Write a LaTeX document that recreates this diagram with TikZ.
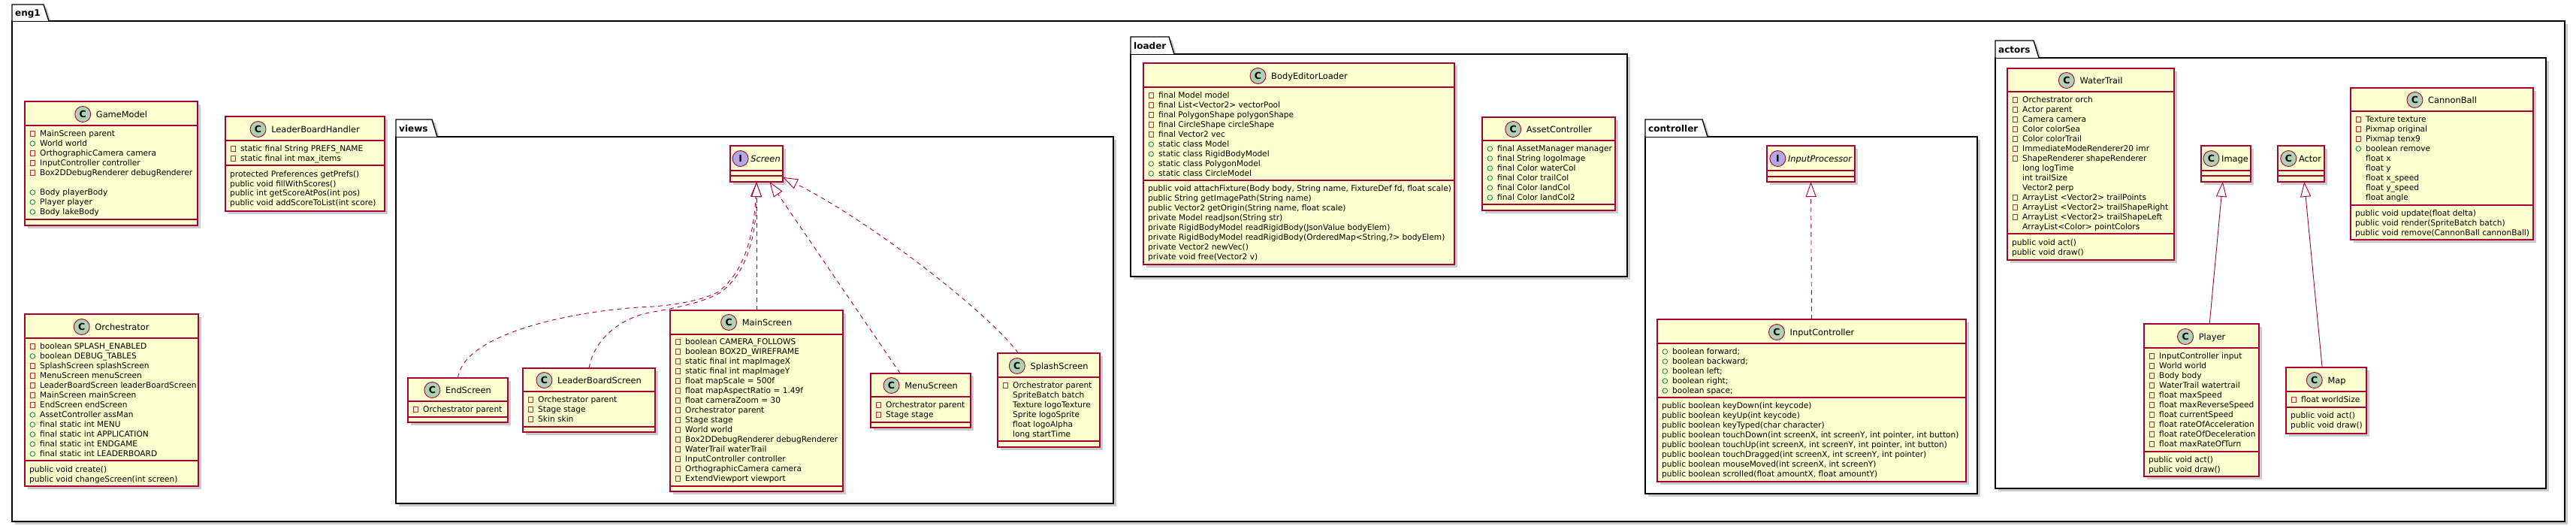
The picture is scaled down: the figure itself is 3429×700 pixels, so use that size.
\documentclass[tikz,border=0pt]{standalone}
\usepackage{fontspec}
\setmainfont{DejaVu Sans}
\usetikzlibrary{arrows.meta,calc}
\definecolor{umlred}{HTML}{A80036}
\definecolor{umlfill}{HTML}{FEFECE}
\definecolor{clsgreen}{HTML}{ADD1B2}
\definecolor{ifcpurple}{HTML}{B4A7E5}
\definecolor{privred}{HTML}{C82930}
\definecolor{pubgreen}{HTML}{038048}
\newcounter{txt}
\tikzset{
  classbox/.style={draw=umlred, fill=umlfill, line width=1.3pt, inner sep=0pt, outer sep=0pt},
  sepline/.style={draw=umlred, line width=1.2pt},
  titletext/.style={font=\fontsize{11.4}{13}\selectfont, inner sep=0pt},
  memtext/.style={font=\fontsize{10.6}{13}\selectfont, inner sep=0pt},
  cicon/.style={circle, draw=umlred, line width=0.9pt, fill=clsgreen, minimum size=21pt, inner sep=0pt, font=\fontsize{12.5}{12}\selectfont\bfseries},
  iicon/.style={cicon, fill=ifcpurple},
  privicon/.style={draw=privred, line width=0.8pt},
  pubicon/.style={draw=pubgreen, line width=0.8pt},
  realize/.style={draw=umlred, line width=0.9pt, dash pattern=on 6pt off 5pt, -{Triangle[length=20pt,width=14pt,fill=white]}},
  inherit/.style={draw=umlred, line width=0.9pt, -{Triangle[length=20pt,width=14pt,fill=white]}},
  pkgbox/.style={draw=black, line width=1.4pt, fill=white, inner sep=0pt, outer sep=0pt},
  shadowfill/.style={fill=black, opacity=0.2},
  pkglabel/.style={font=\fontsize{12}{14}\selectfont\bfseries, inner sep=0pt},
}
% class box: name, L, T, R, B
\newcommand\cls[5]{%
  \def\uN{#1}\def\uL{#2}\def\uR{#4}%
  \fill[shadowfill] ({#2+4},{#3+4}) rectangle ({#4+4},{#5+4});
  \pgfmathsetmacro\clsw{#4-#2}\pgfmathsetmacro\clsh{#5-#3}%
  \node[classbox, minimum width=\clsw pt, minimum height=\clsh pt] (#1) at ({(#2+#4)/2},{(#3+#5)/2}) {};
}
% title: y, icon style, letter, text, gap
\newcommand\ctitle[5]{%
  \pgfmathsetmacro\tcx{(\uL+\uR)/2+(21+#5)/2}%
  \node[titletext, anchor=base] (\uN-t) at (\tcx,{#1+4.1}) {#4};
  \node[#2] (\uN-i) at ($(\uN-t.base west)+({-#5-10.5},-4.1)$) {#3};
}
\newcommand\csep[1]{\draw[sepline] (\uL,#1) -- (\uR,#1);}
\newcommand\mem[2]{\stepcounter{txt}\node[memtext, anchor=base west] (t\arabic{txt}) at ({\uL+20},{#1+3.8}) {#2};}
\newcommand\mpv[2]{\draw[privicon] ({\uL+7},{#1-3.2}) rectangle ({\uL+13.5},{#1+3.2}); \mem{#1}{#2}}
\newcommand\mpb[2]{\draw[pubicon] ({\uL+10.3},#1) circle[radius=3.3pt]; \mem{#1}{#2}}
\newcommand\mpn[2]{\mem{#1}{#2}}
\newcommand\mmt[2]{\stepcounter{txt}\node[memtext, anchor=base west] (t\arabic{txt}) at ({\uL+6},{#1+3.8}) {#2};}
% package: name, L, tabtop, tabright, line, R, B, label
\newcommand\pkg[8]{%
  \fill[shadowfill] ({#2+4},{#5+4}) rectangle ({#6+4},{#7+4});
  \fill[shadowfill] ({#2+4},{#3+4}) -- ({#4-3},{#3+4}) -- ({#4+4},{#5+4}) -- ({#2+4},{#5+4}) -- cycle;
  \pgfmathsetmacro\clsw{#6-#2}\pgfmathsetmacro\clsh{#7-#5}%
  \node[pkgbox, minimum width=\clsw pt, minimum height=\clsh pt] (#1) at ({(#2+#6)/2},{(#5+#7)/2}) {};
  \draw[pkgbox] (#2,#5) -- (#2,#3) -- ({#4-7},#3) -- (#4,#5);
  \node[pkglabel, anchor=base west] (#1-label) at ({#2+4},{#5-6.5}) {#8};
}
\begin{document}
\begin{tikzpicture}[x=1pt,y=-1pt]
\fill[white] (0,0) rectangle (3429,700);
\useasboundingbox (0,0) rectangle (3429,700);
% packages
\pkg{eng1}{16}{6}{65}{28}{3414}{694}{eng1}
\pkg{views}{527}{159}{582}{182}{1482}{670}{views}
\pkg{loader}{1505}{49}{1563}{72}{2166}{368}{loader}
\pkg{controller}{2190}{159}{2273}{182}{2632}{657}{controller}
\pkg{actors}{2656}{54}{2714}{77}{3389}{650}{actors}

% GameModel
\cls{gm}{33}{135}{263}{300}
\ctitle{152}{cicon}{C}{GameModel}{7}
\csep{167}
\mpv{178}{MainScreen parent}
\mpb{191}{World world}
\mpv{204}{OrthographicCamera camera}
\mpv{217}{InputController controller}
\mpv{230}{Box2DDebugRenderer debugRenderer}
\mpb{256}{Body playerBody}
\mpb{269}{Player player}
\mpb{282}{Body lakeBody}
\csep{292}

% LeaderBoardHandler
\cls{lbh}{300}{155}{512}{281}
\ctitle{172}{cicon}{C}{LeaderBoardHandler}{7}
\csep{187}
\mpv{198}{static final String PREFS\_NAME}
\mpv{211}{static final int max\_items}
\csep{220}
\mmt{232}{protected Preferences getPrefs()}
\mmt{245}{public void fillWithScores()}
\mmt{257}{public int getScoreAtPos(int pos)}
\mmt{270}{public void addScoreToList(int score)}

% Orchestrator
\cls{orch}{33}{418}{264}{647}
\ctitle{435}{cicon}{C}{Orchestrator}{7}
\csep{450}
\mpv{461}{boolean SPLASH\_ENABLED}
\mpb{474}{boolean DEBUG\_TABLES}
\mpv{487}{SplashScreen splashScreen}
\mpv{500}{MenuScreen menuScreen}
\mpv{513}{LeaderBoardScreen leaderBoardScreen}
\mpv{526}{MainScreen mainScreen}
\mpv{539}{EndScreen endScreen}
\mpb{552}{AssetController assMan}
\mpb{565}{final static int MENU}
\mpb{578}{final static int APPLICATION}
\mpb{591}{final static int ENDGAME}
\mpb{604}{final static int LEADERBOARD}
\csep{613}
\mmt{625}{public void create()}
\mmt{638}{public void changeScreen(int screen)}

% views
\cls{screen}{972}{194}{1042}{242}
\ctitle{211}{iicon}{I}{\itshape Screen}{3}
\csep{227}
\csep{234}

\cls{end}{543}{503}{676}{562}
\ctitle{519}{cicon}{C}{EndScreen}{7}
\csep{534}
\mpv{545}{Orchestrator parent}
\csep{555}

\cls{lbs}{696}{490}{872}{575}
\ctitle{506}{cicon}{C}{LeaderBoardScreen}{7}
\csep{521}
\mpv{532}{Orchestrator parent}
\mpv{545}{Stage stage}
\mpv{558}{Skin skin}
\csep{568}

\cls{main}{892}{413}{1122}{654}
\ctitle{429}{cicon}{C}{MainScreen}{7}
\csep{445}
\mpv{455}{boolean CAMERA\_FOLLOWS}
\mpv{468}{boolean BOX2D\_WIREFRAME}
\mpv{481}{static final int mapImageX}
\mpv{494}{static final int mapImageY}
\mpv{507}{float mapScale = 500f}
\mpv{520}{float mapAspectRatio = 1.49f}
\mpv{533}{float cameraZoom = 30}
\mpv{546}{Orchestrator parent}
\mpv{559}{Stage stage}
\mpv{572}{World world}
\mpv{585}{Box2DDebugRenderer debugRenderer}
\mpv{598}{WaterTrail waterTrail}
\mpv{611}{InputController controller}
\mpv{624}{OrthographicCamera camera}
\mpv{637}{ExtendViewport viewport}
\csep{647}

\cls{menu}{1159}{497}{1292}{569}
\ctitle{513}{cicon}{C}{MenuScreen}{7}
\csep{528}
\mpv{539}{Orchestrator parent}
\mpv{552}{Stage stage}
\csep{562}

\cls{splash}{1328}{470}{1464}{595}
\ctitle{487}{cicon}{C}{SplashScreen}{7}
\csep{502}
\mpv{513}{Orchestrator parent}
\mpn{526}{SpriteBatch batch}
\mpn{539}{Texture logoTexture}
\mpn{552}{Sprite logoSprite}
\mpn{565}{float logoAlpha}
\mpn{578}{long startTime}
\csep{587}

% loader
\cls{bel}{1522}{84}{1936}{352}
\ctitle{101}{cicon}{C}{BodyEditorLoader}{7}
\csep{116}
\mpv{127}{final Model model}
\mpv{140}{final List<Vector2> vectorPool}
\mpv{153}{final PolygonShape polygonShape}
\mpv{166}{final CircleShape circleShape}
\mpv{179}{final Vector2 vec}
\mpb{192}{static class Model}
\mpb{205}{static class RigidBodyModel}
\mpb{218}{static class PolygonModel}
\mpb{231}{static class CircleModel}
\csep{240}
\mmt{251}{public void attachFixture(Body body, String name, FixtureDef fd, float scale)}
\mmt{264}{public String getImagePath(String name)}
\mmt{277}{public Vector2 getOrigin(String name, float scale)}
\mmt{290}{private Model readJson(String str)}
\mmt{303}{private RigidBodyModel readRigidBody(JsonValue bodyElem)}
\mmt{316}{private RigidBodyModel readRigidBody(OrderedMap<String,?> bodyElem)}
\mmt{329}{private Vector2 newVec()}
\mmt{342}{private void free(Vector2 v)}

\cls{ac}{1973}{156}{2150}{280}
\ctitle{172}{cicon}{C}{AssetController}{7}
\csep{187}
\mpb{198}{final AssetManager manager}
\mpb{211}{final String logoImage}
\mpb{224}{final Color waterCol}
\mpb{237}{final Color trailCol}
\mpb{250}{final Color landCol}
\mpb{263}{final Color landCol2}
\csep{272}

% controller
\cls{ip}{2352}{194}{2469}{242}
\ctitle{211}{iicon}{I}{\itshape InputProcessor}{3}
\csep{227}
\csep{235}

\cls{ic}{2206}{425}{2617}{641}
\ctitle{442}{cicon}{C}{InputController}{7}
\csep{457}
\mpb{468}{boolean forward;}
\mpb{481}{boolean backward;}
\mpb{494}{boolean left;}
\mpb{507}{boolean right;}
\mpb{520}{boolean space;}
\csep{529}
\mmt{540}{public boolean keyDown(int keycode)}
\mmt{553}{public boolean keyUp(int keycode)}
\mmt{566}{public boolean keyTyped(char character)}
\mmt{579}{public boolean touchDown(int screenX, int screenY, int pointer, int button)}
\mmt{592}{public boolean touchUp(int screenX, int screenY, int pointer, int button)}
\mmt{605}{public boolean touchDragged(int screenX, int screenY, int pointer)}
\mmt{618}{public boolean mouseMoved(int screenX, int screenY)}
\mmt{631}{public boolean scrolled(float amountX, float amountY)}

% actors
\cls{wt}{2672}{91}{2894}{346}
\ctitle{107}{cicon}{C}{WaterTrail}{7}
\csep{122}
\mpv{133}{Orchestrator orch}
\mpv{146}{Actor parent}
\mpv{159}{Camera camera}
\mpv{172}{Color colorSea}
\mpv{185}{Color colorTrail}
\mpv{198}{ImmediateModeRenderer20 imr}
\mpv{211}{ShapeRenderer shapeRenderer}
\mpn{224}{long logTime}
\mpn{237}{int trailSize}
\mpn{250}{Vector2 perp}
\mpv{263}{ArrayList <Vector2> trailPoints}
\mpv{276}{ArrayList <Vector2> trailShapeRight}
\mpv{289}{ArrayList <Vector2> trailShapeLeft}
\mpn{302}{ArrayList<Color> pointColors}
\csep{311}
\mmt{323}{public void act()}
\mmt{336}{public void draw()}

\cls{img}{2930}{194}{2996}{242}
\ctitle{211}{cicon}{C}{Image}{3}
\csep{227}
\csep{234}

\cls{actor}{3032}{194}{3094}{242}
\ctitle{211}{cicon}{C}{Actor}{3}
\csep{227}
\csep{234}

\cls{cb}{3129}{117}{3372}{319}
\ctitle{133}{cicon}{C}{CannonBall}{7}
\csep{148}
\mpv{159}{Texture texture}
\mpv{172}{Pixmap original}
\mpv{185}{Pixmap tenx9}
\mpb{198}{boolean remove}
\mpn{211}{float x}
\mpn{224}{float y}
\mpn{237}{float x\_speed}
\mpn{250}{float y\_speed}
\mpn{263}{float angle}
\csep{273}
\mmt{284}{public void update(float delta)}
\mmt{297}{public void render(SpriteBatch batch)}
\mmt{310}{public void remove(CannonBall cannonBall)}

\cls{player}{2854}{431}{3007}{634}
\ctitle{448}{cicon}{C}{Player}{7}
\csep{463}
\mpv{474}{InputController input}
\mpv{487}{World world}
\mpv{500}{Body body}
\mpv{513}{WaterTrail watertrail}
\mpv{526}{float maxSpeed}
\mpv{539}{float maxReverseSpeed}
\mpv{552}{float currentSpeed}
\mpv{565}{float rateOfAcceleration}
\mpv{578}{float rateOfDeceleration}
\mpv{591}{float maxRateOfTurn}
\csep{601}
\mmt{612}{public void act()}
\mmt{625}{public void draw()}

\cls{map}{3043}{489}{3150}{577}
\ctitle{506}{cicon}{C}{Map}{7}
\csep{521}
\mpv{532}{float worldSize}
\csep{542}
\mmt{553}{public void act()}
\mmt{566}{public void draw()}

% connectors
\draw[realize] (end.north) .. controls (618,440) and (780,411) .. (870,408) .. controls (905,405) and (935,399) .. (955,389) .. controls (988,365) and (1003,320) .. (screen.south);
\draw[realize] (lbs.north) .. controls (792,445) and (835,420) .. (870,415) .. controls (905,409) and (938,401) .. (958,390) .. controls (992,366) and (1007,318) .. (screen.south);
\draw[realize] (main.north) -- (screen.south);
\draw[realize] (menu.127.4) -- (screen.-54.7);
\draw[realize] (splash.123.3) .. controls (1318,418) and (1160,295) .. (screen.-27.2);
\draw[realize] (ic.north) -- (ip.south);
\draw[inherit] (player.84.1) -- (img.260.5);
\draw[inherit] (map.97.1) -- (actor.-80.5);
\end{tikzpicture}
\end{document}
